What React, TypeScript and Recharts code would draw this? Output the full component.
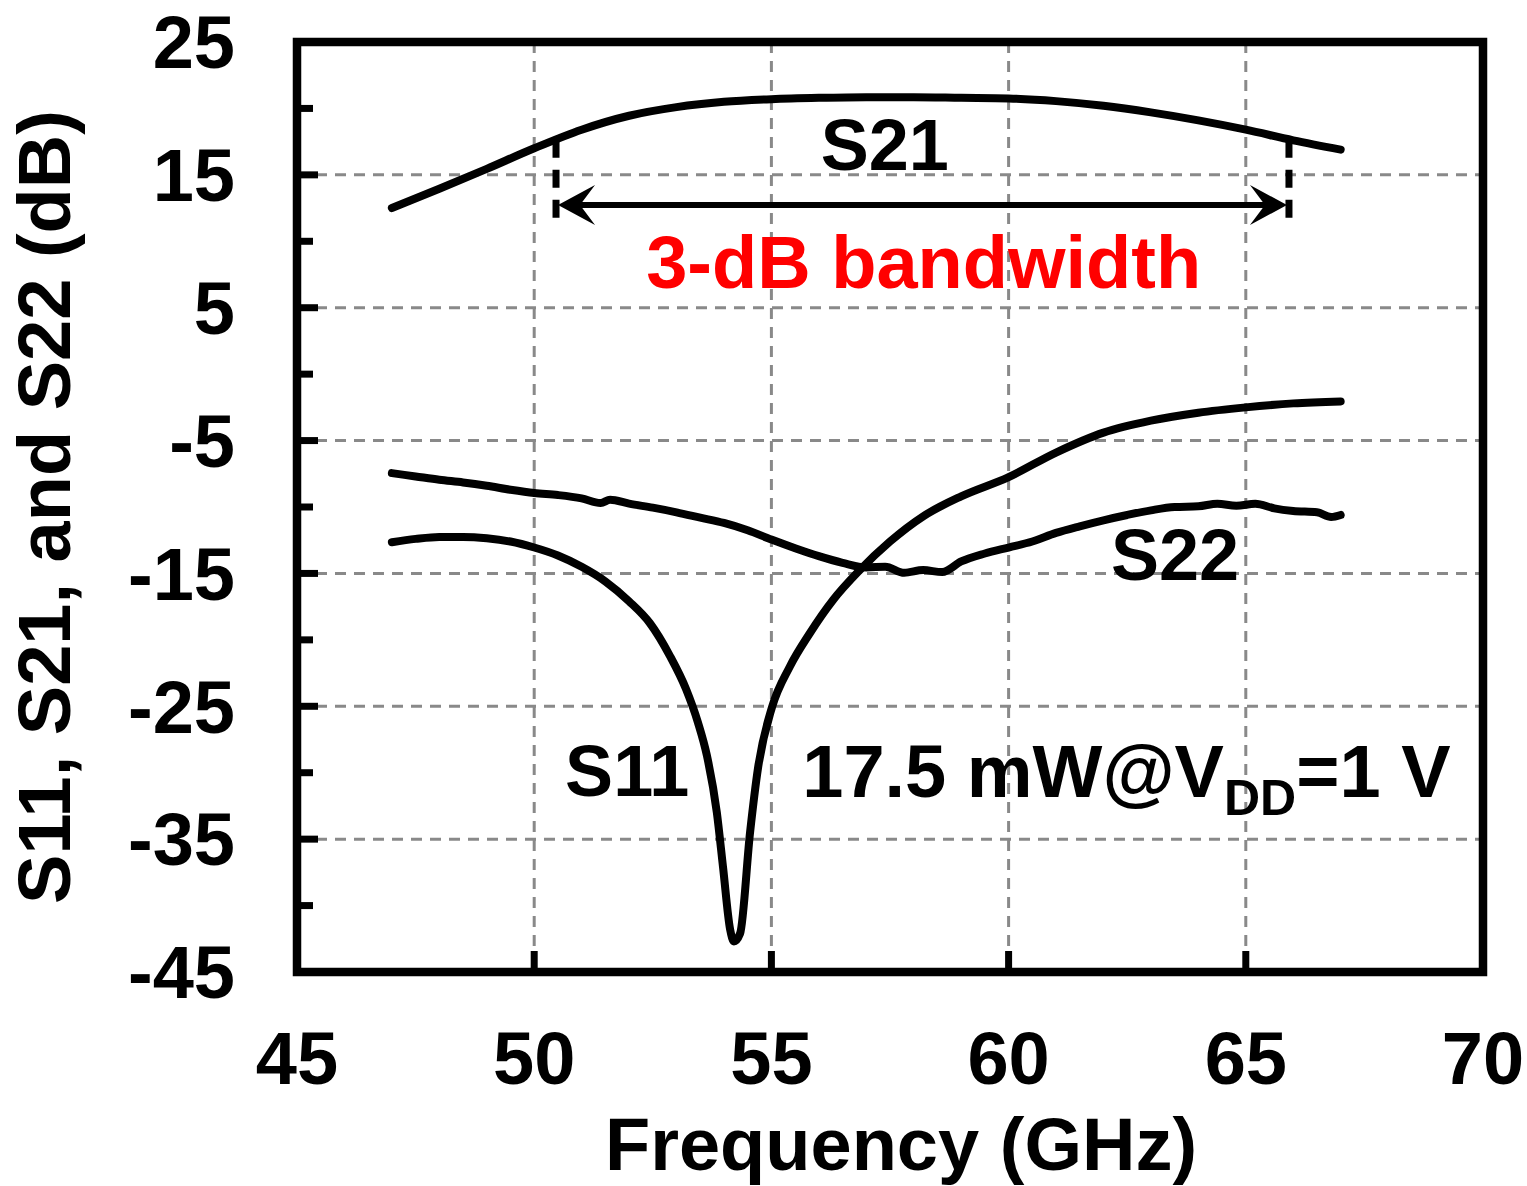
import React from 'react';
import {
  LineChart,
  Line,
  XAxis,
  YAxis,
  CartesianGrid,
  ReferenceArea,
  ReferenceLine,
  ReferenceDot,
  Label,
} from 'recharts';

const FONT = '"Liberation Sans", Arial, Helvetica, sans-serif';

// axis ticks
const xTicks = [45, 50, 55, 60, 65, 70];
const xInnerTicks = [50, 55, 60, 65];
const yTicks = [25, 15, 5, -5, -15, -25, -35, -45];
const yAllTicks = [25, 20, 15, 10, 5, 0, -5, -10, -15, -20, -25, -30, -35, -40, -45];

// S21 (gain)
const s21Freq = [47, 48, 49, 50, 51, 52, 53, 54, 55, 56, 57, 58, 59, 60, 61, 62, 63, 64, 65, 66, 67];
const s21Val = [12.5, 13.95, 15.45, 17.0, 18.4, 19.45, 20.1, 20.5, 20.7, 20.8, 20.85, 20.85, 20.8, 20.75, 20.55, 20.2, 19.7, 19.1, 18.4, 17.6, 16.9];

// S11 (input match)
const s11Freq = [47, 47.5, 48, 48.5, 49, 49.5, 50, 50.5, 51, 51.5, 52, 52.44, 52.86, 53.2, 53.45, 53.64, 53.85, 53.98, 54.13, 54.21, 54.34, 54.55, 54.72, 55.01, 55.39, 55.81, 56.3, 56.85, 57.5, 58.2, 59, 60, 61, 62, 63, 64, 65, 66, 67];
const s11Val = [-12.65, -12.4, -12.25, -12.25, -12.35, -12.6, -13.05, -13.65, -14.5, -15.6, -17.1, -18.75, -21.2, -23.7, -26.2, -28.7, -33.0, -37.1, -41.8, -42.7, -42.1, -34.5, -29.6, -25.1, -22.0, -19.5, -17.0, -14.8, -12.6, -10.7, -9.2, -7.75, -5.9, -4.4, -3.5, -2.9, -2.5, -2.2, -2.05];

// S22 (output match)
const s22Freq = [47, 47.5, 48, 48.5, 49, 49.5, 50, 50.5, 51, 51.4, 51.6, 52, 52.5, 53, 53.5, 54, 54.5, 55, 55.5, 56, 56.5, 57, 57.4, 57.8, 58.2, 58.6, 59, 59.5, 60, 60.5, 61, 61.5, 62, 62.5, 63, 63.5, 64, 64.4, 64.8, 65.2, 65.6, 66, 66.5, 66.8, 67];
const s22Val = [-7.45, -7.7, -7.95, -8.15, -8.4, -8.7, -8.95, -9.1, -9.35, -9.7, -9.45, -9.75, -10.05, -10.4, -10.8, -11.2, -11.75, -12.45, -13.1, -13.7, -14.2, -14.55, -14.5, -14.95, -14.75, -14.9, -14.1, -13.5, -13.05, -12.6, -11.95, -11.45, -11.0, -10.6, -10.25, -10.0, -9.95, -9.75, -9.9, -9.75, -10.1, -10.3, -10.4, -10.75, -10.6];

// 3-dB band edges and arrow level
const bandLow = 50.46;
const bandHigh = 65.91;
const bandTop = 17.65;
const bandBottom = 11.68;
const arrowLevel = 12.73;

const rows = (f: number[], v: number[]) => f.map((x, i) => ({ f: x, v: v[i] }));

const BandArrow = (p: any) => {
  const { x1, x2, y1 } = p;
  const a = Math.min(x1, x2) + 2;
  const b = Math.max(x1, x2) - 2;
  const L = 37, W = 20, N = 22;
  return (
    <g>
      <line x1={a + 10} y1={y1} x2={b - 10} y2={y1} stroke="#000" strokeWidth={6} />
      <path d={`M${a},${y1} L${a + L},${y1 - W} L${a + N},${y1} L${a + L},${y1 + W} Z`} fill="#000" />
      <path d={`M${b},${y1} L${b - L},${y1 - W} L${b - N},${y1} L${b - L},${y1 + W} Z`} fill="#000" />
    </g>
  );
};

const textShape = (content: React.ReactNode, size: number, anchor: 'start' | 'middle', color = '#000') =>
  (p: any) => (
    <text x={p.cx} y={p.cy} textAnchor={anchor} fontFamily={FONT} fontWeight="bold" fontSize={size} fill={color}>
      {content}
    </text>
  );

const XTitle = ({ viewBox }: any) => (
  <text
    x={viewBox.x + viewBox.width / 2 + 11}
    y={viewBox.y + viewBox.height - 16}
    textAnchor="middle"
    fontFamily={FONT}
    fontWeight="bold"
    fontSize={74}
    fill="#000"
  >
    Frequency (GHz)
  </text>
);

const YTitle = ({ viewBox }: any) => {
  const cx = viewBox.x + 70;
  const cy = viewBox.y + viewBox.height / 2;
  return (
    <text
      x={cx}
      y={cy}
      transform={`rotate(-90, ${cx}, ${cy})`}
      textAnchor="middle"
      fontFamily={FONT}
      fontWeight="bold"
      fontSize={74}
      fill="#000"
    >
      S11, S21, and S22 (dB)
    </text>
  );
};

// bottom axis: label below, inward tick mark for interior values
const XTick = ({ x, y, payload }: any) => (
  <g>
    {xInnerTicks.includes(payload.value) && (
      <line x1={x} y1={y} x2={x} y2={y - 21} stroke="#000" strokeWidth={7} />
    )}
    <text x={x} y={y + 59} dy="0.71em" textAnchor="middle" fontFamily={FONT} fontWeight="bold" fontSize={74} fill="#000">
      {payload.value}
    </text>
  </g>
);

// left axis: labelled major ticks, shorter unlabelled minor ticks
const YTick = ({ x, y, payload }: any) => {
  const major = yTicks.includes(payload.value);
  return (
    <g>
      <line x1={x} y1={y} x2={x + (major ? 21 : 16)} y2={y} stroke="#000" strokeWidth={7} />
      {major && (
        <text x={x - 62} y={y} dy="0.355em" textAnchor="end" fontFamily={FONT} fontWeight="bold" fontSize={74} fill="#000">
          {payload.value}
        </text>
      )}
    </g>
  );
};

const curve = { type: 'monotone' as const, stroke: '#000', strokeWidth: 8, strokeLinecap: 'round' as const, strokeLinejoin: 'round' as const, dot: false, isAnimationActive: false };

export default function App() {
  return (
    <div style={{ position: 'absolute', left: 0, top: 0, background: '#fff' }}>
      <LineChart width={1527} height={1186} margin={{ top: 42, right: 44, left: 0, bottom: 0 }}>
        <XAxis
          xAxisId="f"
          type="number"
          dataKey="f"
          domain={[45, 70]}
          ticks={xTicks}
          interval={0}
          tickSize={0}
          tickMargin={0}
          tickLine={false}
          axisLine={false}
          height={214}
          tick={XTick}
          label={<Label content={XTitle} />}
        />
        <YAxis
          yAxisId="db"
          type="number"
          domain={[-45, 25]}
          ticks={yAllTicks}
          interval={0}
          tickSize={0}
          tickMargin={0}
          tickLine={false}
          axisLine={false}
          width={297}
          tick={YTick}
          label={<Label content={YTitle} />}
        />
        <CartesianGrid
          xAxisId="f"
          yAxisId="db"
          horizontalValues={yTicks}
          verticalValues={xTicks}
          stroke="#898989"
          strokeWidth={3}
          strokeDasharray="11 8"
        />

        <Line xAxisId="f" yAxisId="db" data={rows(s21Freq, s21Val)} dataKey="v" {...curve} />
        <Line xAxisId="f" yAxisId="db" data={rows(s11Freq, s11Val)} dataKey="v" {...curve} />
        <Line xAxisId="f" yAxisId="db" data={rows(s22Freq, s22Val)} dataKey="v" {...curve} />

        <ReferenceLine xAxisId="f" yAxisId="db" segment={[{ x: bandLow, y: bandTop }, { x: bandLow, y: bandBottom }]} stroke="#000" strokeWidth={7} strokeDasharray="18 12" />
        <ReferenceLine xAxisId="f" yAxisId="db" segment={[{ x: bandHigh, y: bandTop }, { x: bandHigh, y: bandBottom }]} stroke="#000" strokeWidth={7} strokeDasharray="18 12" />
        <ReferenceLine xAxisId="f" yAxisId="db" segment={[{ x: bandLow, y: arrowLevel }, { x: bandHigh, y: arrowLevel }]} shape={BandArrow} />

        <ReferenceDot xAxisId="f" yAxisId="db" x={57.39} y={15.37} r={0} shape={textShape('S21', 72, 'middle')} />
        <ReferenceDot xAxisId="f" yAxisId="db" x={58.21} y={6.48} r={0} shape={textShape('3-dB bandwidth', 74, 'middle', '#ff0000')} />
        <ReferenceDot xAxisId="f" yAxisId="db" x={63.51} y={-15.49} r={0} shape={textShape('S22', 72, 'middle')} />
        <ReferenceDot xAxisId="f" yAxisId="db" x={51.96} y={-31.75} r={0} shape={textShape('S11', 72, 'middle')} />
        <ReferenceDot
          xAxisId="f"
          yAxisId="db"
          x={55.65}
          y={-31.8}
          r={0}
          shape={textShape(
            <>
              <tspan>17.5 mW@V</tspan>
              <tspan fontSize={50} dy={18}>DD</tspan>
              <tspan dy={-18}>=1 V</tspan>
            </>,
            74,
            'start'
          )}
        />

        <ReferenceArea xAxisId="f" yAxisId="db" x1={45} x2={70} y1={-45} y2={25} fill="none" stroke="#000" strokeWidth={8.5} ifOverflow="visible" />
      </LineChart>
    </div>
  );
}
